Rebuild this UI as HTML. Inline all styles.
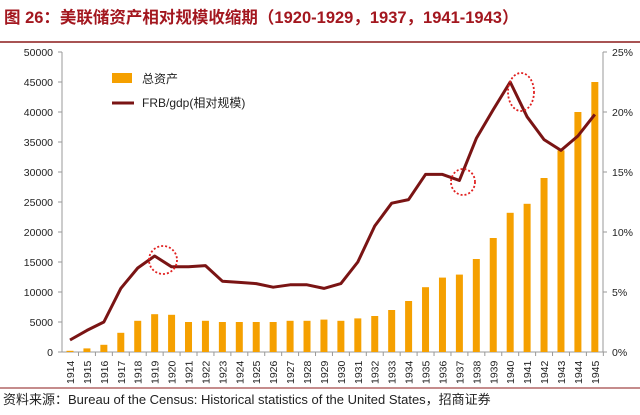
<!DOCTYPE html>
<html><head><meta charset="utf-8"><style>
body{margin:0;background:#fff;width:640px;height:410px;overflow:hidden}
svg text{font-family:"Liberation Sans","Noto Sans CJK SC",sans-serif}
</style></head><body>
<svg width="640" height="410" xmlns="http://www.w3.org/2000/svg">
<text x="4" y="23" font-size="16.5" font-weight="bold" fill="#a3171f">图 26：美联储资产相对规模收缩期（1920-1929，1937，1941-1943）</text>
<line x1="0" y1="42" x2="640" y2="42" stroke="#8b1a1a" stroke-width="1.5"/>
<g id="c"></g>
<line x1="0" y1="388" x2="640" y2="388" stroke="#8b1a1a" stroke-width="1"/>
<text x="3" y="404" font-size="13" fill="#222">资料来源：Bureau of the Census: Historical statistics of the United States，招商证券</text>
</svg>
<script>
const g=document.getElementById('c');let s='';
const bars=[200,600,1200,3200,5200,6300,6200,5000,5200,5000,5000,5000,5000,5200,5200,5400,5200,5600,6000,7000,8500,10800,12400,12900,15500,19000,23200,24700,29000,33600,40000,45000];
const line=[1,1.8,2.5,5.3,7,8,7.1,7.1,7.2,5.9,5.8,5.7,5.4,5.6,5.6,5.3,5.7,7.5,10.5,12.4,12.7,14.8,14.8,14.3,17.8,20.2,22.5,19.6,17.7,16.8,18,19.8];
const X=i=>70+i*16.93, Y0=352;
s+=`<line x1="62" y1="52" x2="62" y2="352" stroke="#999"/><line x1="62" y1="352" x2="603" y2="352" stroke="#999"/><line x1="603" y1="52" x2="603" y2="352" stroke="#999"/>`;
for(let v=0;v<=50000;v+=5000){const y=Y0-v*0.006;s+=`<line x1="58" y1="${y}" x2="62" y2="${y}" stroke="#999"/><text x="53" y="${y+4}" font-size="10.5" text-anchor="end" fill="#222">${v}</text>`;}
for(let p=0;p<=25;p+=5){const y=Y0-p*12;s+=`<line x1="603" y1="${y}" x2="607" y2="${y}" stroke="#999"/><text x="612" y="${y+4}" font-size="10.5" fill="#222">${p}%</text>`;}
bars.forEach((v,i)=>{const x=X(i);s+=`<rect x="${x-3.5}" y="${Y0-v*0.006}" width="7" height="${v*0.006}" fill="#f5a000"/><line x1="${x+8.5}" y1="352" x2="${x+8.5}" y2="356" stroke="#999"/><text transform="translate(${x+4},384) rotate(-90)" font-size="10.5" fill="#222">${1914+i}</text>`;});
s+=`<polyline fill="none" stroke="#7a1414" stroke-width="3" stroke-linejoin="round" points="${line.map((p,i)=>X(i)+','+(Y0-p*12)).join(' ')}"/>`;
[[163,260,14,14],[463,182,12,13],[521,92,13,19]].forEach(c=>s+=`<ellipse cx="${c[0]}" cy="${c[1]}" rx="${c[2]}" ry="${c[3]}" fill="none" stroke="#e02020" stroke-width="1.8" stroke-dasharray="2,2"/>`);
s+=`<rect x="112" y="73" width="20" height="10" fill="#f5a000"/><text x="142" y="83" font-size="12" fill="#222">总资产</text>`;
s+=`<line x1="112" y1="103" x2="134" y2="103" stroke="#7a1414" stroke-width="3"/><text x="142" y="107" font-size="12" fill="#222">FRB/gdp(相对规模)</text>`;
g.innerHTML=s;
</script>
</body></html>
